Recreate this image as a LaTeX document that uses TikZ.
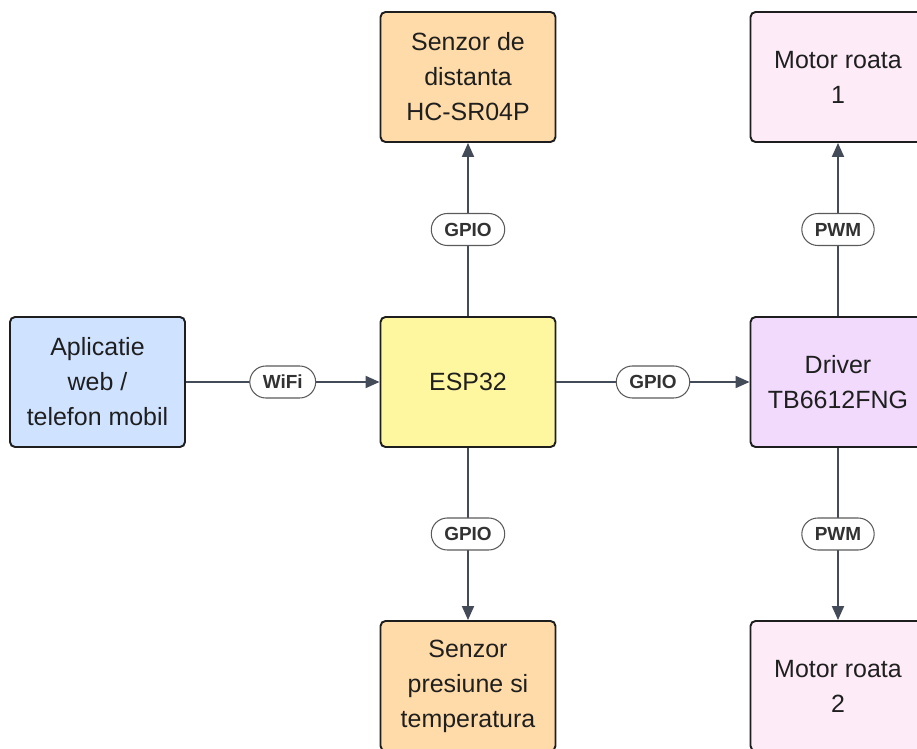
\documentclass[tikz,border=0pt]{standalone}
\usepackage{fontspec}
\setmainfont{Liberation Sans}
\usetikzlibrary{arrows.meta,positioning}
\definecolor{appblue}{RGB}{207,226,255}
\definecolor{espyel}{RGB}{255,246,160}
\definecolor{senorg}{RGB}{254,219,168}
\definecolor{drvlil}{RGB}{241,218,252}
\definecolor{motpnk}{RGB}{253,236,248}
\definecolor{boxline}{RGB}{30,30,30}
\definecolor{arrclr}{RGB}{68,75,88}
\definecolor{pillline}{RGB}{90,90,90}
\definecolor{lbltxt}{RGB}{50,50,50}

\begin{document}
\begin{tikzpicture}[x=0.02cm, y=-0.02cm,
  blk/.style={draw=boxline, line width=1.1pt, rounded corners=0.1cm, minimum width=3.5cm, minimum height=2.6cm, align=center, text=black!88, font=\fontsize{14.2}{19.9}\selectfont},
  lbl/.style={draw=pillline, fill=white, line width=0.6pt, rounded corners=0.32cm, minimum height=0.64cm, inner xsep=0.26cm, inner ysep=0pt, font=\fontsize{10.8}{12}\selectfont\bfseries, text=lbltxt},
  con/.style={draw=arrclr, line width=1.1pt, -{Triangle[length=0.28cm,width=0.24cm]}}]
\clip (0,0) rectangle (917,749);
\node[blk, fill=appblue] (app) at (97.5,382) {Aplicatie\\web /\\telefon mobil};
\node[blk, fill=espyel] (esp) at (468,382) {ESP32};
\node[blk, fill=senorg] (dist) at (468,77) {Senzor de\\distanta\\HC-SR04P};
\node[blk, fill=senorg] (pres) at (468,686) {Senzor\\presiune si\\temperatura};
\node[blk, fill=drvlil] (drv) at (838,382) {Driver\\TB6612FNG};
\node[blk, fill=motpnk] (m1) at (838,77) {Motor roata\\1};
\node[blk, fill=motpnk] (m2) at (838,686) {Motor roata\\2};
\foreach \a/\b/\t in {app/esp/WiFi, esp/dist/GPIO, esp/pres/GPIO, esp/drv/GPIO, drv/m1/PWM, drv/m2/PWM}
  \draw[con] (\a) -- node[lbl] {\t} (\b);
\end{tikzpicture}
\end{document}
